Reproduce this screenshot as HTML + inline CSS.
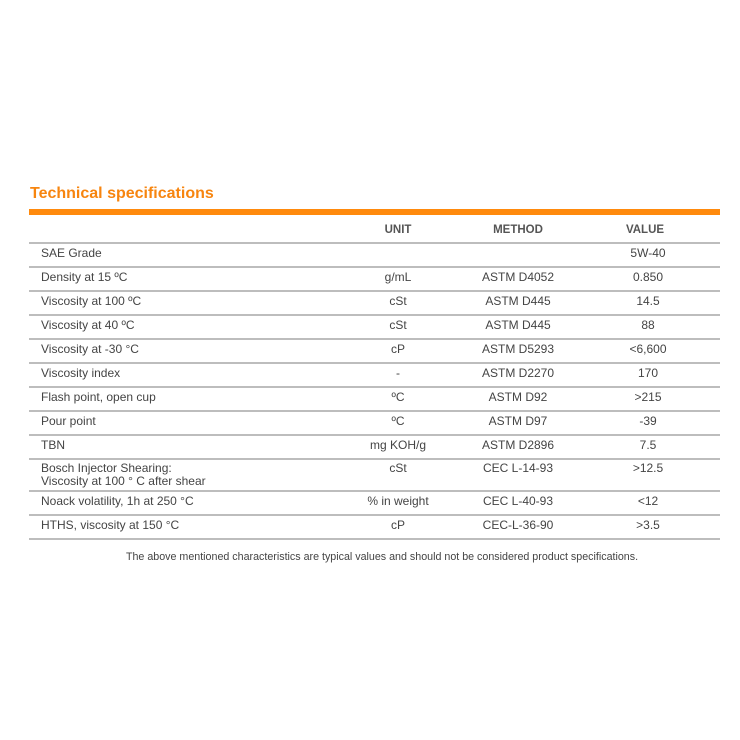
<!DOCTYPE html>
<html><head><style>
body{margin:0;width:740px;height:740px;background:#fff;font-family:"Liberation Sans",sans-serif;color:#444;position:relative;overflow:hidden}
.t{position:absolute;left:30px;top:185px;font-size:16px;font-weight:bold;color:#f7850f}
.bar{position:absolute;left:29px;top:209px;width:691px;height:6px;background:#ff8a0d}
.l{position:absolute;left:29px;width:691px;height:1.5px;background:#bdbdbd}
.r{position:absolute;font-size:12px;line-height:13px;white-space:nowrap}
.c{transform:translateX(-50%)}
.h{font-weight:bold;font-size:11.5px;color:#555}
.f{position:absolute;left:382px;top:551px;font-size:10.7px;transform:translateX(-50%);white-space:nowrap;color:#444}
</style></head><body>
<div class="t">Technical specifications</div>
<div class="bar"></div>
<div class="r c h" style="left:398px;top:224px">UNIT</div>
<div class="r c h" style="left:518px;top:224px">METHOD</div>
<div class="r c h" style="left:645px;top:224px">VALUE</div>
<div class="l" style="top:242px"></div>
<div class="l" style="top:266px"></div>
<div class="l" style="top:290px"></div>
<div class="l" style="top:314px"></div>
<div class="l" style="top:338px"></div>
<div class="l" style="top:362px"></div>
<div class="l" style="top:386px"></div>
<div class="l" style="top:410px"></div>
<div class="l" style="top:434px"></div>
<div class="l" style="top:458px"></div>
<div class="l" style="top:490px"></div>
<div class="l" style="top:514px"></div>
<div class="l" style="top:538px"></div>

<div class="r" style="left:41px;top:247px">SAE Grade</div>
<div class="r c" style="left:648px;top:247px">5W-40</div>

<div class="r" style="left:41px;top:271px">Density at 15 ºC</div>
<div class="r c" style="left:398px;top:271px">g/mL</div>
<div class="r c" style="left:518px;top:271px">ASTM D4052</div>
<div class="r c" style="left:648px;top:271px">0.850</div>

<div class="r" style="left:41px;top:295px">Viscosity at 100 ºC</div>
<div class="r c" style="left:398px;top:295px">cSt</div>
<div class="r c" style="left:518px;top:295px">ASTM D445</div>
<div class="r c" style="left:648px;top:295px">14.5</div>

<div class="r" style="left:41px;top:319px">Viscosity at 40 ºC</div>
<div class="r c" style="left:398px;top:319px">cSt</div>
<div class="r c" style="left:518px;top:319px">ASTM D445</div>
<div class="r c" style="left:648px;top:319px">88</div>

<div class="r" style="left:41px;top:343px">Viscosity at -30 °C</div>
<div class="r c" style="left:398px;top:343px">cP</div>
<div class="r c" style="left:518px;top:343px">ASTM D5293</div>
<div class="r c" style="left:648px;top:343px">&lt;6,600</div>

<div class="r" style="left:41px;top:367px">Viscosity index</div>
<div class="r c" style="left:398px;top:367px">-</div>
<div class="r c" style="left:518px;top:367px">ASTM D2270</div>
<div class="r c" style="left:648px;top:367px">170</div>

<div class="r" style="left:41px;top:391px">Flash point, open cup</div>
<div class="r c" style="left:398px;top:391px">ºC</div>
<div class="r c" style="left:518px;top:391px">ASTM D92</div>
<div class="r c" style="left:648px;top:391px">&gt;215</div>

<div class="r" style="left:41px;top:415px">Pour point</div>
<div class="r c" style="left:398px;top:415px">ºC</div>
<div class="r c" style="left:518px;top:415px">ASTM D97</div>
<div class="r c" style="left:648px;top:415px">-39</div>

<div class="r" style="left:41px;top:439px">TBN</div>
<div class="r c" style="left:398px;top:439px">mg KOH/g</div>
<div class="r c" style="left:518px;top:439px">ASTM D2896</div>
<div class="r c" style="left:648px;top:439px">7.5</div>

<div class="r" style="left:41px;top:462px">Bosch Injector Shearing:<br>Viscosity at 100 ° C after shear</div>
<div class="r c" style="left:398px;top:462px">cSt</div>
<div class="r c" style="left:518px;top:462px">CEC L-14-93</div>
<div class="r c" style="left:648px;top:462px">&gt;12.5</div>

<div class="r" style="left:41px;top:495px">Noack volatility, 1h at 250 °C</div>
<div class="r c" style="left:398px;top:495px">% in weight</div>
<div class="r c" style="left:518px;top:495px">CEC L-40-93</div>
<div class="r c" style="left:648px;top:495px">&lt;12</div>

<div class="r" style="left:41px;top:519px">HTHS, viscosity at 150 °C</div>
<div class="r c" style="left:398px;top:519px">cP</div>
<div class="r c" style="left:518px;top:519px">CEC-L-36-90</div>
<div class="r c" style="left:648px;top:519px">&gt;3.5</div>

<div class="f">The above mentioned characteristics are typical values and should not be considered product specifications.</div>
</body></html>
